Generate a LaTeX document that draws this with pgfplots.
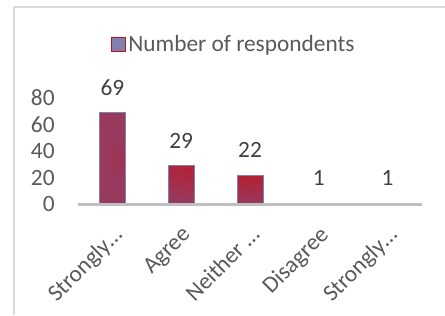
\documentclass[border=0pt]{standalone}
\usepackage{pgfplots}
\pgfplotsset{compat=1.18}
\usepackage{fontspec}
\setmainfont{Carlito}
\definecolor{framegray}{HTML}{D9D9D9}
\definecolor{ticktext}{HTML}{595959}
\definecolor{labeltext}{HTML}{404040}
\definecolor{axisgray}{HTML}{BFBFBF}
\definecolor{barred}{HTML}{C4101A}
\definecolor{barouter}{HTML}{983A5E}
\definecolor{barborder}{HTML}{7F7FB0}
\begin{document}
\begin{tikzpicture}
\useasboundingbox (0,0) rectangle (333.75pt,-236.25pt);
\draw[framegray, line width=1pt] (10.5pt,-5.25pt) -- (10.5pt,-236.25pt);
\draw[framegray, line width=1pt] (10.5pt,-5.25pt) -- (333.75pt,-5.25pt);
\begin{axis}[
  at={(58.5pt,-154.5pt)}, anchor=south west,
  scale only axis, width=258pt, height=81pt,
  xmin=-0.5, xmax=4.5, ymin=-1.2, ymax=80,
  ytick={0,20,40,60,80},
  xtick={0,1,2,3,4},
  xticklabels={Strongly…,Agree,Neither …,Disagree,Strongly…},
  axis line style={draw=none},
  major tick length=0pt,
  tick style={draw=none},
  /pgf/number format/assume math mode=true,
  ticklabel style={font=\fontsize{17.5}{21}\selectfont, text=ticktext},
  yticklabel style={xshift=-14pt},
  xticklabel style={rotate=45, anchor=north east, inner sep=0pt, xshift=-10.25pt, yshift=-9.55pt},
  extra y ticks={0}, extra y tick labels={},
  extra y tick style={grid=major, major grid style={draw=axisgray, line width=2pt}},
  legend style={at={(0.4535,1.496)}, anchor=center, draw=none, fill=none, font=\fontsize{17.5}{21}\selectfont, text=ticktext},
  clip=false,
]
\addplot[ybar, bar width=19.5pt, draw=barborder, line width=0.6pt, shading=radial, inner color=barred, outer color=barouter,
  nodes near coords,
  every node near coord/.append style={font=\fontsize{17.5}{21}\selectfont, text=labeltext, anchor=south, inner sep=0pt, yshift=12.75pt},
  legend image code/.code={\pgfsetfillcolor{barborder}\pgfsetstrokecolor{barred}\pgfsetlinewidth{0.6pt}\pgfpathrectangle{\pgfpoint{0pt}{-5pt}}{\pgfpoint{10.5pt}{10.5pt}}\pgfusepath{fill,stroke}}]
  coordinates {(0,69) (1,29) (2,22) (3,1) (4,1)};
\addlegendentry{Number of respondents}
\addplot[fill=axisgray, draw=none, forget plot]
  coordinates {(-0.5,-1) (4.5,-1) (4.5,1) (-0.5,1)} -- cycle;
\end{axis}
\end{tikzpicture}
\end{document}
